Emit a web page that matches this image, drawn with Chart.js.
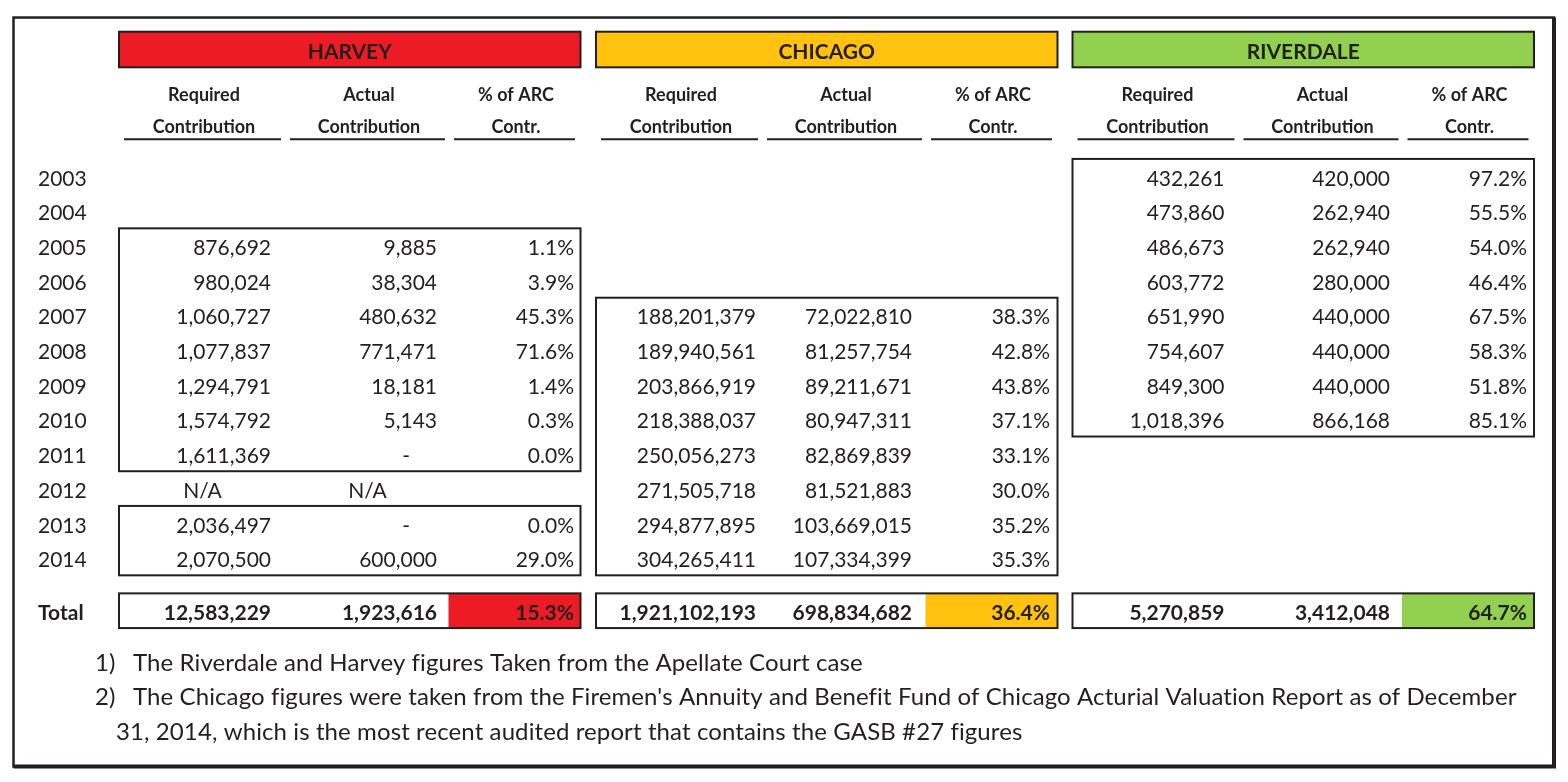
<!DOCTYPE html>
<html>
<head>
<meta charset="utf-8">
<script src="https://cdn.jsdelivr.net/npm/chart.js@4.4.0/dist/chart.umd.min.js"></script>
<style>
  html, body { margin: 0; padding: 0; background: #fff; }
</style>
</head>
<body>
<canvas id="arcTable" width="1568" height="782"></canvas>
<script>
const years = ['2003','2004','2005','2006','2007','2008','2009','2010','2011','2012','2013','2014'];
const groups = ['HARVEY', 'CHICAGO', 'RIVERDALE'];
const subHeads = [['Required', 'Contribution'], ['Actual', 'Contribution'], ['% of ARC', 'Contr.']];

const harveyRequired = [null, null, 876692, 980024, 1060727, 1077837, 1294791, 1574792, 1611369, 'N/A', 2036497, 2070500];
const harveyActual   = [null, null, 9885, 38304, 480632, 771471, 18181, 5143, 0, 'N/A', 0, 600000];
const harveyPct      = [null, null, 1.1, 3.9, 45.3, 71.6, 1.4, 0.3, 0.0, null, 0.0, 29.0];

const chicagoRequired = [null, null, null, null, 188201379, 189940561, 203866919, 218388037, 250056273, 271505718, 294877895, 304265411];
const chicagoActual   = [null, null, null, null, 72022810, 81257754, 89211671, 80947311, 82869839, 81521883, 103669015, 107334399];
const chicagoPct      = [null, null, null, null, 38.3, 42.8, 43.8, 37.1, 33.1, 30.0, 35.2, 35.3];

const riverdaleRequired = [432261, 473860, 486673, 603772, 651990, 754607, 849300, 1018396, null, null, null, null];
const riverdaleActual   = [420000, 262940, 262940, 280000, 440000, 440000, 440000, 866168, null, null, null, null];
const riverdalePct      = [97.2, 55.5, 54.0, 46.4, 67.5, 58.3, 51.8, 85.1, null, null, null, null];

const totalRequired = [12583229, 1921102193, 5270859];
const totalActual   = [1923616, 698834682, 3412048];
const totalPct      = [15.3, 36.4, 64.7];

const notes = [
  ['1)', 'The Riverdale and Harvey figures Taken from the Apellate Court case'],
  ['2)', "The Chicago figures were taken from the Firemen's Annuity and Benefit Fund of Chicago Acturial Valuation Report as of December"],
  ['', '31, 2014, which is the most recent audited report that contains the GASB #27 figures']
];

// ---- layout and style ----
const ink = '#231f20';
const groupColors = ['#ed1c24', '#ffc20e', '#92d050'];
const family = 'Lato, "Open Sans", sans-serif';
const font = (size, bold) => (bold ? 'bold ' : '') + size + 'px ' + family;

const layout = {
  yearX: 38,
  groupLeft: [119, 596, 1072.5],
  groupWidth: 461.5,
  numRight: [[152, 318, 455], [160, 316, 454], [152, 317.5, 454.5]],
  colSpan: [[5, 162], [171, 326], [335, 456]],
  fillFrom: 329.5,
  dashInset: 27,
  noteNumX: 95,
  noteTextX: [133, 133, 116],
  frame: { left: 13.5, right: 1554, top: -4.625, bottom: 16.96 },
  groupBox: [-4.216, -3.19],
  groupText: -3.64,
  subRows: [-2.42, -1.47],
  underline: -1.115,
  totalRow: 12.52,
  noteRows: [13.98, 14.96, 15.97],
  cellTop: -0.55,
  cellBottom: 0.45
};

const columns = [
  [harveyRequired, harveyActual, harveyPct],
  [chicagoRequired, chicagoActual, chicagoPct],
  [riverdaleRequired, riverdaleActual, riverdalePct]
];
const totals = [totalRequired, totalActual, totalPct];

function cellText(v, c) {
  if (typeof v === 'string') return v;
  if (c === 2) return v.toFixed(1) + '%';
  if (v === 0) return '-';
  return v.toLocaleString('en-US');
}

function cellPoint(v, g, c, row) {
  const left = layout.groupLeft[g];
  const right = left + layout.numRight[g][c];
  const text = cellText(v, c);
  if (typeof v === 'string') {
    const span = layout.colSpan[c];
    return { x: left + (span[0] + span[1]) / 2, y: row, text, align: 'center' };
  }
  if (text === '-') {
    return { x: right - layout.dashInset, y: row, text, align: 'right' };
  }
  return { x: right, y: row, text, align: 'right' };
}

const datasets = [];
datasets.push({
  label: 'years',
  data: years.map((yr, i) => ({ x: layout.yearX, y: i, text: yr, align: 'left' }))
    .concat([{ x: layout.yearX, y: layout.totalRow, text: 'Total', align: 'left', bold: true }])
});
columns.forEach((cols, g) => {
  cols.forEach((values, c) => {
    const pts = [];
    values.forEach((v, i) => { if (v !== null) pts.push(cellPoint(v, g, c, i)); });
    const t = cellPoint(totals[c][g], g, c, layout.totalRow);
    t.bold = true;
    pts.push(t);
    datasets.push({ label: groups[g] + ' ' + subHeads[c].join(' '), data: pts });
  });
});
datasets.forEach(ds => { ds.pointRadius = 0; ds.showLine = false; });

// boxes around each run of reported years
function runs(values) {
  const out = [];
  let start = null;
  values.forEach((v, i) => {
    const ok = typeof v === 'number';
    if (ok && start === null) start = i;
    if (!ok && start !== null) { out.push([start, i - 1]); start = null; }
  });
  if (start !== null) out.push([start, values.length - 1]);
  return out;
}

function baseline(yPx, size) { return yPx + size * 0.36; }

const tablePlugin = {
  id: 'tablePlugin',
  beforeDatasetsDraw(chart) {
    const { ctx, scales: { x, y } } = chart;
    const px = v => x.getPixelForValue(v);
    const py = v => y.getPixelForValue(v);
    const f = layout.frame;
    ctx.save();
    ctx.fillStyle = '#fff';
    ctx.fillRect(0, 0, chart.width, chart.height);

    // outer frame, heavier on right and bottom like the scan
    ctx.strokeStyle = ink;
    ctx.lineWidth = 2.5;
    ctx.strokeRect(px(f.left), py(f.top), px(f.right) - px(f.left), py(f.bottom) - py(f.top));
    ctx.lineWidth = 4;
    ctx.beginPath();
    ctx.moveTo(px(f.right), py(f.top));
    ctx.lineTo(px(f.right), py(f.bottom));
    ctx.lineTo(px(f.left), py(f.bottom));
    ctx.stroke();

    groups.forEach((name, g) => {
      const l = layout.groupLeft[g];
      const r = l + layout.groupWidth;
      // group header bar
      ctx.fillStyle = groupColors[g];
      const top = py(layout.groupBox[0]), bot = py(layout.groupBox[1]);
      ctx.fillRect(px(l), top, px(r) - px(l), bot - top);
      ctx.lineWidth = 2;
      ctx.strokeStyle = ink;
      ctx.strokeRect(px(l), top, px(r) - px(l), bot - top);
      ctx.fillStyle = ink;
      ctx.font = font(21, true);
      ctx.textAlign = 'center';
      ctx.textBaseline = 'alphabetic';
      ctx.fillText(name, px(l + layout.groupWidth / 2), baseline(py(layout.groupText), 21));

      // column headings and underlines
      ctx.font = font(18, true);
      subHeads.forEach((lines, c) => {
        const span = layout.colSpan[c];
        const cx = px(l + (span[0] + span[1]) / 2 + 1.5);
        lines.forEach((t, k) => ctx.fillText(t, cx, baseline(py(layout.subRows[k]), 18)));
        ctx.beginPath();
        ctx.moveTo(px(l + span[0]), py(layout.underline));
        ctx.lineTo(px(l + span[1]), py(layout.underline));
        ctx.stroke();
      });

      // data boxes
      ctx.lineWidth = 2;
      runs(columns[g][0]).forEach(([a, b]) => {
        const t = py(a + layout.cellTop), btm = py(b + layout.cellBottom);
        ctx.strokeRect(px(l), t, px(r) - px(l), btm - t);
      });

      // total box with coloured % cell
      const tt = py(layout.totalRow + layout.cellTop), tb = py(layout.totalRow + layout.cellBottom);
      ctx.fillStyle = groupColors[g];
      ctx.fillRect(px(l + layout.fillFrom), tt, px(r) - px(l + layout.fillFrom), tb - tt);
      ctx.strokeRect(px(l), tt, px(r) - px(l), tb - tt);
    });

    // footnotes
    ctx.fillStyle = ink;
    ctx.textAlign = 'left';
    ctx.font = font(24, false);
    ctx.letterSpacing = '0.1px';
    notes.forEach((n, k) => {
      const yb = baseline(py(layout.noteRows[k]), 23);
      if (n[0]) ctx.fillText(n[0], px(layout.noteNumX), yb);
      ctx.fillText(n[1], px(layout.noteTextX[k]), yb);
    });
    ctx.letterSpacing = '0px';
    ctx.restore();
  },
  afterDatasetsDraw(chart) {
    const ctx = chart.ctx;
    ctx.save();
    ctx.fillStyle = ink;
    ctx.textBaseline = 'alphabetic';
    chart.data.datasets.forEach((ds, di) => {
      const meta = chart.getDatasetMeta(di);
      meta.data.forEach((el, i) => {
        const raw = ds.data[i];
        ctx.font = font(21, !!raw.bold);
        ctx.textAlign = raw.align;
        ctx.fillText(raw.text, el.x, baseline(el.y, 21));
      });
    });
    ctx.restore();
  }
};

new Chart(document.getElementById('arcTable'), {
  type: 'scatter',
  data: { datasets: datasets },
  options: {
    responsive: false,
    animation: false,
    devicePixelRatio: 1,
    layout: { padding: 0 },
    scales: {
      x: { type: 'linear', display: false, min: 0, max: 1568 },
      y: { type: 'linear', display: false, reverse: true, min: -5.13, max: 17.406 }
    },
    plugins: {
      legend: { display: false },
      tooltip: { enabled: false }
    }
  },
  plugins: [tablePlugin]
});
</script>
</body>
</html>
